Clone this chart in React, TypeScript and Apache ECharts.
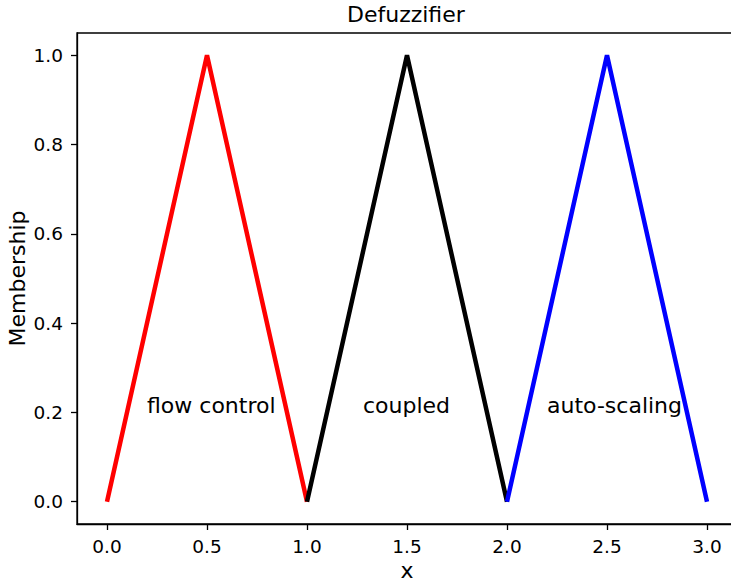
import React, { useEffect, useRef } from "react";
import * as echarts from "echarts";

const flowX = [0, 0.5, 1];
const flowY = [0, 1, 0];
const coupledX = [1, 1.5, 2];
const coupledY = [0, 1, 0];
const autoX = [2, 2.5, 3];
const autoY = [0, 1, 0];
const xTicks = [0, 0.5, 1, 1.5, 2, 2.5, 3];
const yTicks = [0, 0.2, 0.4, 0.6, 0.8, 1.0];
const labelNames = ["flow control", "coupled", "auto-scaling"];
const labelX = [0.2, 1.28, 2.2];
const labelY = [0.2, 0.2, 0.2];

const FONT = "DejaVu Sans";

function zip(xs: number[], ys: number[]) {
  return xs.map((x, i) => [x, ys[i]]);
}

export default function App() {
  const ref = useRef<HTMLDivElement>(null);
  useEffect(() => {
    const chart = echarts.init(ref.current!, null, { renderer: "svg" });
    const lineSeries = (name: string, data: number[][], color: string) => ({
      type: "line",
      name,
      data,
      showSymbol: false,
      symbol: "none",
      lineStyle: { color, width: 4.5, cap: "butt", join: "miter" },
    });
    chart.setOption({
      animation: false,
      backgroundColor: "#fff",
      title: {
        text: "Defuzzifier",
        left: 347,
        top: 3,
        padding: 0,
        textStyle: { fontFamily: FONT, fontSize: 22, fontWeight: "normal", color: "#000" },
      },
      grid: {
        left: 77,
        top: 33,
        bottom: 58,
        right: -6,
        outerBoundsMode: "none",
        containLabel: false,
        show: true,
        borderColor: "#000",
        borderWidth: 1.3,
        backgroundColor: "transparent",
      },
      xAxis: {
        type: "value",
        min: -0.15,
        max: 3.15,
        name: "x",
        nameLocation: "middle",
        nameGap: 36,
        nameMoveOverlap: false,
        nameTextStyle: { fontFamily: FONT, fontSize: 22, lineHeight: 20, color: "#000" },
        splitLine: { show: false },
        axisLine: { show: true, onZero: false, lineStyle: { color: "#000", width: 1.3 } },
        axisTick: { show: true, customValues: xTicks, length: 6, lineStyle: { color: "#000", width: 1.3 } },
        axisLabel: {
          customValues: xTicks,
          formatter: (v: number) => v.toFixed(1),
          fontFamily: FONT,
          fontSize: 18.5,
          color: "#000",
          margin: 13,
        },
      },
      yAxis: {
        type: "value",
        min: -0.05,
        max: 1.05,
        name: "Membership",
        nameLocation: "middle",
        nameGap: 49,
        nameMoveOverlap: false,
        nameRotate: 90,
        nameTextStyle: { fontFamily: FONT, fontSize: 22, color: "#000" },
        splitLine: { show: false },
        axisLine: { show: true, onZero: false, lineStyle: { color: "#000", width: 1.3 } },
        axisTick: { show: true, customValues: yTicks, length: 6, lineStyle: { color: "#000", width: 1.3 } },
        axisLabel: {
          customValues: yTicks,
          formatter: (v: number) => v.toFixed(1),
          fontFamily: FONT,
          fontSize: 18.5,
          color: "#000",
          margin: 14,
        },
      },
      series: [
        lineSeries("flow control", zip(flowX, flowY), "#ff0000"),
        lineSeries("coupled", zip(coupledX, coupledY), "#000000"),
        lineSeries("auto-scaling", zip(autoX, autoY), "#0000ff"),
        {
          type: "scatter",
          symbolSize: 0,
          silent: true,
          itemStyle: { opacity: 1 },
          data: labelNames.map((n, i) => ({ name: n, value: [labelX[i], labelY[i]] })),
          label: {
            show: true,
            position: [0, 0],
            formatter: (p: any) => p.name,
            fontFamily: FONT,
            fontSize: 22,
            color: "#000",
            opacity: 1,
            textBorderWidth: 0,
            align: "left",
            verticalAlign: "bottom",
            offset: [0, 4],
          },
        },
      ],
    });
    return () => chart.dispose();
  }, []);
  return <div ref={ref} style={{ width: 731, height: 582, position: "absolute", left: 0, top: 0 }} />;
}
